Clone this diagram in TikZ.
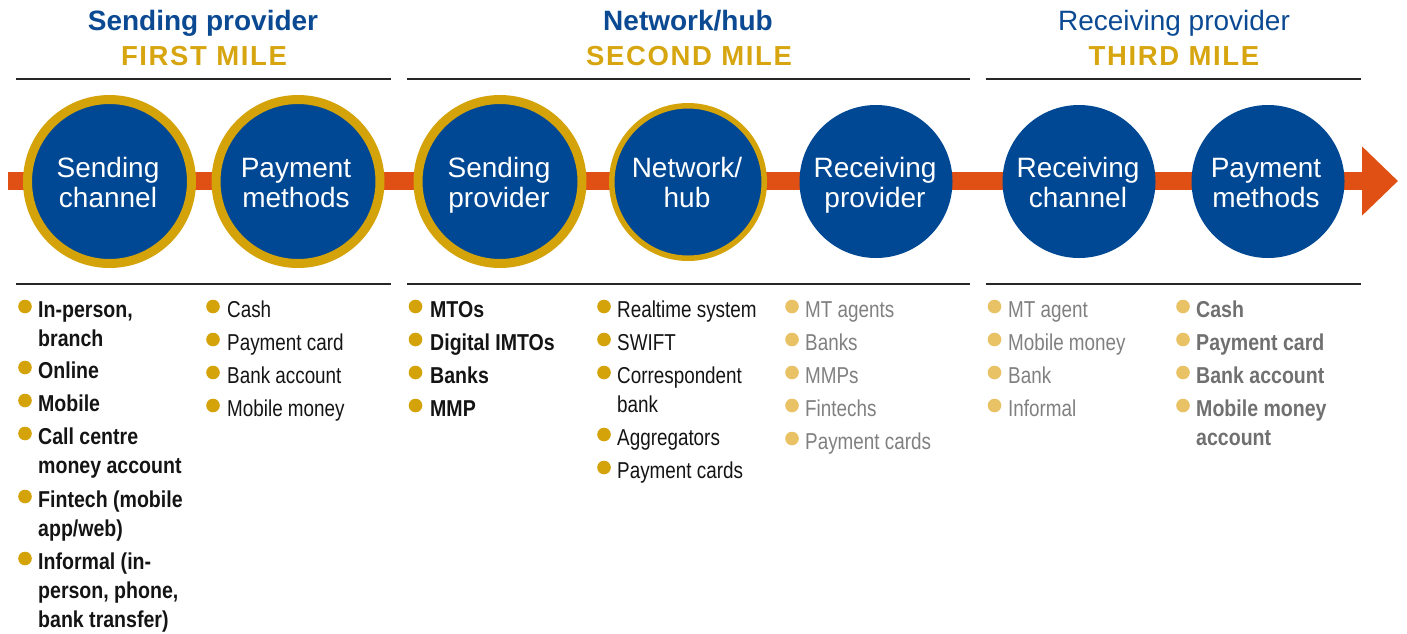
\documentclass[tikz,border=0pt]{standalone}
\usepackage{fontspec}
\usetikzlibrary{arrows.meta}
\setmainfont{Liberation Sans}
\newfontfamily\condfont{Liberation Sans}[FakeStretch=0.82]
\newfontfamily\condbfont{Liberation Sans}[FakeStretch=0.85]
\newfontfamily\spacedfont{Liberation Sans}[LetterSpace=6]
\definecolor{cblue}{RGB}{0,72,147}
\definecolor{hblue}{RGB}{11,74,146}
\definecolor{cgold}{RGB}{212,163,10}
\definecolor{tgold}{RGB}{214,165,16}
\definecolor{corange}{RGB}{224,80,20}
\definecolor{lgold}{RGB}{232,194,100}
\definecolor{tgray}{RGB}{128,128,128}
\definecolor{tgrayb}{RGB}{112,112,112}
\definecolor{tblack}{RGB}{20,20,20}
\newcommand\li[7]{%
  \fill[#6] (#2,#4-10.5) circle (6.8);
  \node[#5, anchor=base west] (#1) at (#3,#4) {\begin{tabular}[t]{@{}l@{}}#7\end{tabular}};
}
\begin{document}
\begin{tikzpicture}[x=1pt,y=-1pt,
  ring/.style={circle, fill=cblue, draw=cgold, inner sep=0pt, outer sep=0pt},
  plainc/.style={circle, fill=cblue, inner sep=0pt, outer sep=0pt, minimum size=153pt},
  ctext/.style={text=white, font=\fontsize{28}{30}\selectfont, anchor=base, inner sep=0pt},
  hdr/.style={text=hblue, font=\bfseries\fontsize{28}{30}\selectfont, anchor=base, inner sep=0pt},
  hdrl/.style={text=hblue, font=\fontsize{28}{30}\selectfont, anchor=base, inner sep=0pt},
  mile/.style={text=tgold, font=\spacedfont\bfseries\fontsize{27.5}{30}\selectfont, anchor=base, inner sep=0pt},
  rule/.style={draw=black!85, line width=1.6pt},
  lb/.style={text=tblack, font=\condbfont\bfseries\fontsize{23}{29}\selectfont, inner sep=0pt},
  lr/.style={text=tblack, font=\condfont\fontsize{23}{29}\selectfont, inner sep=0pt},
  lg/.style={text=tgray, font=\condfont\fontsize{23}{29}\selectfont, inner sep=0pt},
  lgb/.style={text=tgrayb, font=\condbfont\bfseries\fontsize{23}{29}\selectfont, inner sep=0pt}
]
\useasboundingbox (0,0) rectangle (1407,633);

% headers
\node[hdr] (h1) at (203,30) {Sending provider};
\node[mile] (m1) at (204,65) {FIRST MILE};
\node[hdr] (h2) at (688,30) {Network/hub};
\node[mile] (m2) at (689,65) {SECOND MILE};
\node[hdrl] (h3) at (1174,30) {Receiving provider};
\node[mile] (m3) at (1174,65) {THIRD MILE};

% rules
\foreach \yy in {79,284} {
  \draw[rule] (16,\yy) -- (391,\yy);
  \draw[rule] (407,\yy) -- (970,\yy);
  \draw[rule] (986,\yy) -- (1361,\yy);
}

% arrow
\coordinate (astart) at (8,181);
\coordinate (aend) at (1398,181);
\draw[corange, line width=18pt, -{Triangle[length=36pt, width=67pt]}] (astart) -- (aend);

% circles
\node[ring, line width=9pt, minimum size=164pt] (c1) at (109.5,181.5) {};
\node[ring, line width=9pt, minimum size=164pt] (c2) at (298,181.5) {};
\node[ring, line width=9pt, minimum size=164pt] (c3) at (500,181.5) {};
\node[ring, line width=5.5pt, minimum size=152.5pt] (c4) at (688,182) {};
\node[plainc] (c5) at (876,181.5) {};
\node[plainc] (c6) at (1079,181.5) {};
\node[plainc] (c7) at (1268,181.5) {};

\node[ctext] (t1) at (108,177) {\begin{tabular}[t]{@{}c@{}}Sending\\channel\end{tabular}};
\node[ctext] (t2) at (296,177) {\begin{tabular}[t]{@{}c@{}}Payment\\methods\end{tabular}};
\node[ctext] (t3) at (499,177) {\begin{tabular}[t]{@{}c@{}}Sending\\provider\end{tabular}};
\node[ctext] (t4) at (687,177) {\begin{tabular}[t]{@{}c@{}}Network/\\hub\end{tabular}};
\node[ctext] (t5) at (875,177) {\begin{tabular}[t]{@{}c@{}}Receiving\\provider\end{tabular}};
\node[ctext] (t6) at (1078,177) {\begin{tabular}[t]{@{}c@{}}Receiving\\channel\end{tabular}};
\node[ctext] (t7) at (1266,177) {\begin{tabular}[t]{@{}c@{}}Payment\\methods\end{tabular}};

% column 1
\li{a1}{25}{38}{317}{lb}{cgold}{In-person,\\branch}
\li{a2}{25}{38}{378}{lb}{cgold}{Online}
\li{a3}{25}{38}{411}{lb}{cgold}{Mobile}
\li{a4}{25}{38}{444}{lb}{cgold}{Call centre\\money account}
\li{a5}{25}{38}{507}{lb}{cgold}{Fintech (mobile\\app/web)}
\li{a6}{25}{38}{569}{lb}{cgold}{Informal (in-\\person, phone,\\bank transfer)}

% column 2
\li{b1}{213}{227}{317}{lr}{cgold}{Cash}
\li{b2}{213}{227}{350}{lr}{cgold}{Payment card}
\li{b3}{213}{227}{383}{lr}{cgold}{Bank account}
\li{b4}{213}{227}{416}{lr}{cgold}{Mobile money}

% column 3
\li{d1}{415.5}{430}{317}{lb}{cgold}{MTOs}
\li{d2}{415.5}{430}{350}{lb}{cgold}{Digital IMTOs}
\li{d3}{415.5}{430}{383}{lb}{cgold}{Banks}
\li{d4}{415.5}{430}{416}{lb}{cgold}{MMP}

% column 4
\li{e1}{604}{617}{317}{lr}{cgold}{Realtime system}
\li{e2}{604}{617}{350}{lr}{cgold}{SWIFT}
\li{e3}{604}{617}{383}{lr}{cgold}{Correspondent\\bank}
\li{e4}{604}{617}{445}{lr}{cgold}{Aggregators}
\li{e5}{604}{617}{478}{lr}{cgold}{Payment cards}

% column 5
\li{f1}{792}{805}{317}{lg}{lgold}{MT agents}
\li{f2}{792}{805}{350}{lg}{lgold}{Banks}
\li{f3}{792}{805}{383}{lg}{lgold}{MMPs}
\li{f4}{792}{805}{416}{lg}{lgold}{Fintechs}
\li{f5}{792}{805}{449}{lg}{lgold}{Payment cards}

% column 6
\li{g1}{994.5}{1008}{317}{lg}{lgold}{MT agent}
\li{g2}{994.5}{1008}{350}{lg}{lgold}{Mobile money}
\li{g3}{994.5}{1008}{383}{lg}{lgold}{Bank}
\li{g4}{994.5}{1008}{416}{lg}{lgold}{Informal}

% column 7
\li{k1}{1183}{1196}{317}{lgb}{lgold}{Cash}
\li{k2}{1183}{1196}{350}{lgb}{lgold}{Payment card}
\li{k3}{1183}{1196}{383}{lgb}{lgold}{Bank account}
\li{k4}{1183}{1196}{416}{lgb}{lgold}{Mobile money\\account}
\end{tikzpicture}
\end{document}
